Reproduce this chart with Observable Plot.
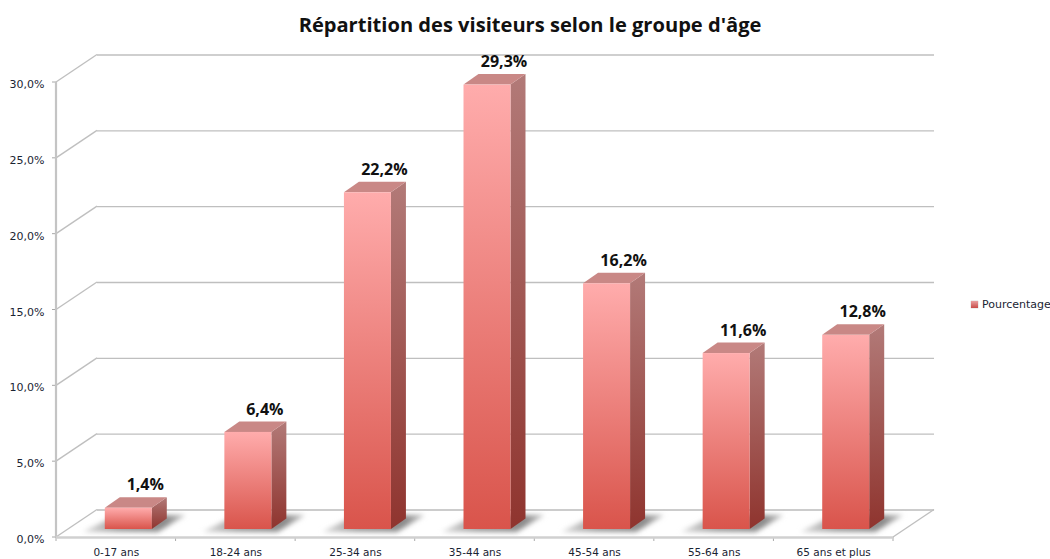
<!DOCTYPE html>
<html lang="fr">
<head>
<meta charset="utf-8">
<script src="https://cdn.jsdelivr.net/npm/d3@7"></script>
<script src="https://cdn.jsdelivr.net/npm/@observablehq/plot@0.6"></script>
<style>
html,body{margin:0;padding:0;background:#fff;overflow:hidden;width:1050px;height:559px}
#wrap{position:relative;width:1050px;height:559px}
#title{height:40px;text-align:center;padding-left:10px;box-sizing:border-box;font:bold 20.1px/49px "Open Sans",sans-serif;color:#111}
#legend{position:absolute;left:971px;top:298px;display:flex;align-items:center;gap:4px;font:11px "DejaVu Sans",sans-serif;color:#1a2433;white-space:nowrap}
#legend i{display:block;width:7px;height:7px;background:linear-gradient(#e9a0a0,#c84c48);box-shadow:0 0 1px #999}
svg{display:block}
</style>
</head>
<body>
<div id="wrap">
<div id="title">Répartition des visiteurs selon le groupe d'âge</div>
<div id="legend"><i></i><span>Pourcentage</span></div>
<div id="chart"></div>
</div>
<script>
const categories = ["0-17 ans","18-24 ans","25-34 ans","35-44 ans","45-54 ans","55-64 ans","65 ans et plus"];
const values = [1.4,6.4,22.2,29.3,16.2,11.6,12.8];
const yTicks = [0,5,10,15,20,25,30];
const seriesName = "Pourcentage";

const rows = categories.map((c,i)=>({category:c,value:values[i],series:seriesName}));
const fmt = d => d.toFixed(1).replace(".",",")+"%";
const NS = "http://www.w3.org/2000/svg";
const wallDx = 41, wallDy = -27.5;          // depth of the chart box
const barDx = 12.5, barDy = -8;             // bar's front face inside the box
const sideDx = 15, sideDy = -10.5;          // bar depth
const grid = "#bfbfbf";

function el(name, attrs, parent){
  const e = document.createElementNS(NS,name);
  for (const k in attrs) e.setAttribute(k,attrs[k]);
  if (parent) parent.appendChild(e);
  return e;
}
function poly(parent, pts, attrs){
  return el("polygon",{points:pts.map(p=>p.join(",")).join(" "),...attrs},parent);
}
function grad(defs,id,stops){
  const g = el("linearGradient",{id,x1:0,y1:0,x2:0,y2:1},defs);
  stops.forEach((c,i)=>el("stop",{offset:i/(stops.length-1),"stop-color":c},g));
}

// Box behind the bars: floor, diagonals, shadows
function backdrop(index, scales){
  const g = el("g",{});
  const defs = el("defs",{},g);
  grad(defs,"faceGrad",["#ffacac","#d9544b"]);
  grad(defs,"sideGrad",["#b27a78","#8f342e"]);
  const f = el("filter",{id:"shadowBlur",x:"-30%",y:"-50%",width:"160%",height:"200%"},defs);
  el("feGaussianBlur",{stdDeviation:2.5},f);
  const sg = el("linearGradient",{id:"shadowGrad",x1:0,y1:0,x2:1,y2:0},defs);
  el("stop",{offset:0,"stop-color":"#ddd"},sg);
  el("stop",{offset:.35,"stop-color":"#a0a0a0"},sg);
  el("stop",{offset:.8,"stop-color":"#8a8a8a"},sg);
  el("stop",{offset:1,"stop-color":"#c4c4c4"},sg);

  const [xa,xb] = scales.x.range();
  const y0 = scales.y(0);
  // diagonals from the front plane to the wall, with the value-axis ticks
  yTicks.forEach(t=>{
    const y = scales.y(t);
    el("line",{x1:xa,y1:y,x2:xa+wallDx,y2:y+wallDy,stroke:grid,"stroke-width":1.4},g);
    el("line",{x1:xa-4,y1:y,x2:xa,y2:y,stroke:"#a8a8a8","stroke-width":1},g);
  });
  // right edge of the floor
  el("line",{x1:xb,y1:y0,x2:xb+wallDx,y2:y0+wallDy,stroke:grid,"stroke-width":1.4},g);
  // vertical axis line
  el("line",{x1:xa,y1:scales.y(30),x2:xa,y2:y0,stroke:"#c4c4c4","stroke-width":2.2},g);
  // category tick marks
  const step = scales.x.step();
  categories.concat("").forEach((_,i)=>{
    const x = xa+i*step;
    el("line",{x1:x,y1:y0,x2:x,y2:y0+4,stroke:"#aaa","stroke-width":1},g);
  });
  // shadows on the floor
  rows.forEach(r=>{
    const x0 = scales.x(r.category)+barDx, x1 = x0+scales.x.bandwidth();
    const yb = y0+barDy;
    poly(g,[[x0-22,yb+3],[x0+12,yb-14],[x1+34,yb-14],[x1+6,yb+3]],
      {fill:"url(#shadowGrad)",filter:"url(#shadowBlur)"});
  });
  return g;
}

// Side and top faces of each bar, placed with the chart's scales
function sides(index, scales){
  const g = el("g",{});
  rows.forEach(r=>{
    const x0 = scales.x(r.category)+barDx, x1 = x0+scales.x.bandwidth();
    const yt = scales.y(r.value)+barDy, yb = scales.y(0)+barDy;
    poly(g,[[x1,yt],[x1+sideDx,yt+sideDy],[x1+sideDx,yb+sideDy],[x1,yb]],{fill:"url(#sideGrad)"});
    poly(g,[[x0,yt],[x0+sideDx,yt+sideDy],[x1+sideDx,yt+sideDy],[x1,yt]],{fill:"#c98886"});
  });
  return g;
}

const chart = Plot.plot({
  width:1050, height:519,
  marginTop:42, marginBottom:22, marginLeft:56, marginRight:157,
  style:{background:"transparent",overflow:"visible"},
  x:{domain:categories,paddingInner:0.607,paddingOuter:0.3035,round:false,label:null},
  y:{domain:[0,30],label:null},
  marks:[
    // back wall grid lines
    Plot.ruleY(yTicks.slice(1),{dx:wallDx,dy:wallDy,stroke:grid,strokeWidth:1.4}),
    Plot.ruleY([0],{dx:wallDx,dy:wallDy,stroke:"#cccccc",strokeWidth:2}),
    backdrop,
    Plot.ruleY([0],{stroke:"#d0d0d0",strokeWidth:2.5}),
    sides,
    Plot.barY(rows,{x:"category",y:"value",dx:barDx,dy:barDy,fill:"url(#faceGrad)"}),
    Plot.text(rows,{x:"category",y:"value",text:d=>fmt(d.value),dx:29,dy:-31,
      fontFamily:"'Open Sans',sans-serif",fontWeight:"bold",fontSize:16,fill:"#111"}),
    Plot.axisY({ticks:yTicks,tickFormat:fmt,tickSize:0,tickPadding:12,dy:2,
      fontFamily:"'DejaVu Sans',sans-serif",fontSize:11,fill:"#1a2433",label:null}),
    Plot.axisX({tickSize:0,tickPadding:11,fontFamily:"'DejaVu Sans',sans-serif",fontSize:10.5,fill:"#1a2433",label:null})
  ]
});
document.getElementById("chart").appendChild(chart);
</script>
</body>
</html>
